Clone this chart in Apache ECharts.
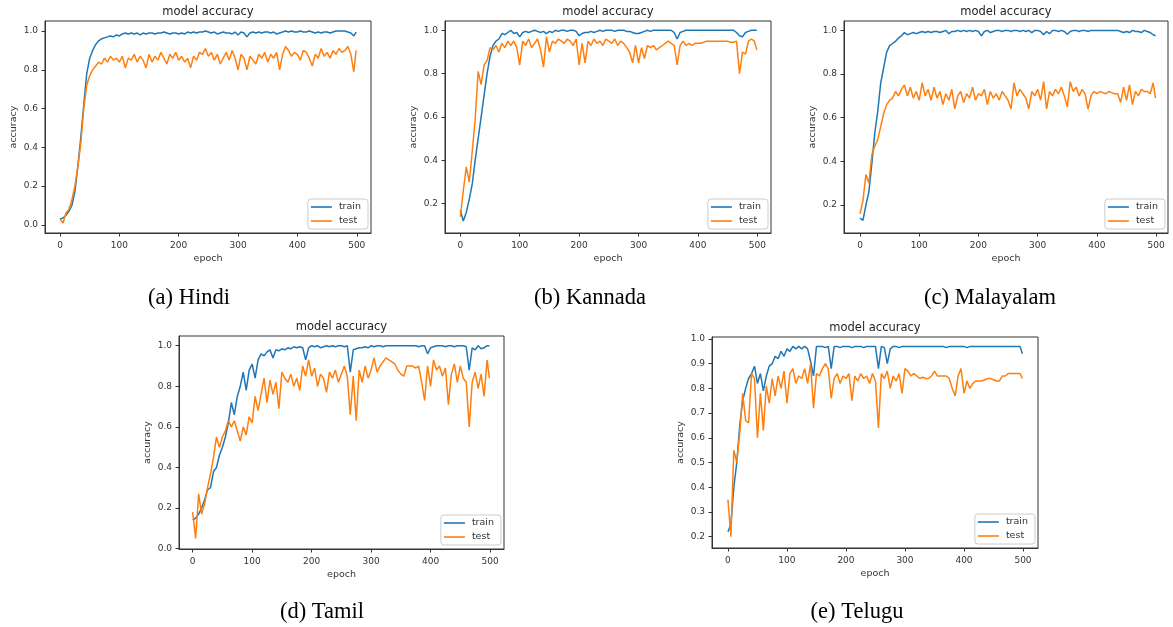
<!DOCTYPE html>
<html><head><meta charset="utf-8">
<script src="https://cdn.jsdelivr.net/npm/echarts@6/dist/echarts.min.js"></script>
<style>html,body{margin:0;padding:0;background:#fff}#c{width:1173px;height:627px}</style>
</head><body><div id="c"></div><script>
const epochs = [0,5,10,15,20,25,30,35,40,45,50,55,60,65,70,75,80,85,90,95,100,105,110,115,120,125,130,135,140,145,150,155,160,165,170,175,180,185,190,195,200,205,210,215,220,225,230,235,240,245,250,255,260,265,270,275,280,285,290,295,300,305,310,315,320,325,330,335,340,345,350,355,360,365,370,375,380,385,390,395,400,405,410,415,420,425,430,435,440,445,450,455,460,465,470,475,480,485,490,495,499];

const hindiTrain = [0.03,0.035,0.05,0.07,0.10,0.17,0.30,0.45,0.62,0.78,
0.86,0.90,0.93,0.95,0.96,0.965,0.97,0.975,0.97,0.98,
0.975,0.985,0.99,0.985,0.99,0.985,0.99,0.98,0.99,0.985,
0.99,0.99,0.985,0.99,0.99,0.995,0.99,0.985,0.99,0.99,
0.985,0.99,0.985,0.995,0.99,0.995,0.99,0.995,0.995,1.0,
0.995,0.99,0.995,0.985,0.99,0.995,0.99,0.99,0.985,0.995,
0.98,0.995,0.99,0.97,0.99,0.995,0.99,0.995,0.99,0.995,
0.995,0.99,0.995,0.985,0.99,0.995,1.0,0.995,1.0,0.995,
0.995,1.0,0.995,0.995,1.0,0.995,0.99,0.995,0.99,0.995,
0.995,0.99,0.995,1.0,1.0,1.0,1.0,0.995,0.99,0.975,
0.995];
const hindiTest = [0.03,0.01,0.06,0.08,0.13,0.20,0.30,0.42,0.60,0.72,
0.77,0.80,0.82,0.84,0.83,0.86,0.84,0.87,0.85,0.86,
0.84,0.87,0.81,0.86,0.85,0.88,0.84,0.87,0.85,0.81,
0.88,0.84,0.87,0.85,0.89,0.86,0.83,0.88,0.86,0.89,
0.85,0.87,0.84,0.86,0.81,0.87,0.85,0.89,0.88,0.91,
0.87,0.89,0.85,0.88,0.83,0.86,0.89,0.85,0.90,0.86,
0.80,0.88,0.86,0.80,0.87,0.85,0.83,0.88,0.86,0.89,
0.84,0.88,0.86,0.89,0.80,0.88,0.92,0.90,0.87,0.89,
0.88,0.85,0.90,0.89,0.86,0.82,0.88,0.86,0.91,0.87,
0.89,0.86,0.90,0.88,0.91,0.89,0.90,0.92,0.88,0.79,
0.90];

const kannadaTrain = [0.17,0.12,0.16,0.22,0.29,0.40,0.50,0.60,0.70,0.80,
0.88,0.93,0.95,0.96,0.985,0.98,0.99,1.0,0.985,0.99,
0.97,0.99,0.995,0.99,0.995,1.0,0.995,0.99,0.995,0.985,
0.995,0.99,1.0,0.995,1.0,1.0,0.995,1.0,1.0,0.995,
0.975,0.985,0.99,0.99,0.995,0.99,0.995,1.0,0.995,1.0,
1.0,1.0,0.995,1.0,1.0,1.0,0.995,0.995,0.99,0.985,
0.985,0.99,0.995,1.0,0.995,1.0,1.0,1.0,1.0,1.0,
1.0,1.0,0.99,0.96,0.99,0.995,1.0,1.0,1.0,1.0,
1.0,1.0,1.0,1.0,1.0,1.0,1.0,1.0,1.0,1.0,
1.0,1.0,1.0,0.99,0.975,0.97,0.99,0.995,1.0,1.0,
1.0];
const kannadaTest = [0.14,0.26,0.37,0.30,0.44,0.59,0.81,0.75,0.84,0.86,
0.92,0.91,0.93,0.90,0.94,0.92,0.95,0.93,0.95,0.92,
0.84,0.95,0.93,0.96,0.92,0.94,0.96,0.91,0.83,0.97,
0.90,0.95,0.94,0.96,0.95,0.94,0.96,0.95,0.93,0.96,
0.84,0.94,0.85,0.95,0.93,0.96,0.94,0.95,0.93,0.96,
0.95,0.94,0.96,0.93,0.95,0.94,0.92,0.90,0.85,0.93,
0.85,0.92,0.87,0.93,0.92,0.93,0.91,0.92,0.93,0.94,
0.95,0.94,0.93,0.84,0.93,0.95,0.93,0.94,0.93,0.94,
0.94,0.94,0.945,0.95,0.95,0.95,0.95,0.95,0.95,0.95,
0.95,0.945,0.945,0.95,0.80,0.90,0.89,0.95,0.96,0.95,
0.91];

const malayalamTrain = [0.14,0.13,0.20,0.26,0.39,0.53,0.63,0.76,0.83,0.90,
0.93,0.94,0.95,0.965,0.975,0.99,0.98,0.985,0.99,0.985,
0.99,0.995,0.99,0.995,0.99,0.995,0.995,0.99,0.995,1.0,
0.985,0.995,0.995,1.0,0.995,1.0,0.995,1.0,0.995,1.0,
0.995,0.975,0.995,1.0,0.99,0.995,1.0,1.0,0.995,1.0,
1.0,0.995,1.0,1.0,0.995,1.0,0.995,1.0,0.99,1.0,
1.0,0.995,0.98,0.995,0.985,1.0,1.0,0.995,1.0,0.995,
0.982,0.995,1.0,1.0,0.995,1.0,1.0,0.995,1.0,1.0,
1.0,1.0,1.0,1.0,1.0,1.0,1.0,1.0,0.995,0.99,
0.995,0.99,1.0,0.995,0.995,0.99,1.0,0.995,0.99,0.98,
0.975];
const malayalamTest = [0.16,0.22,0.34,0.30,0.43,0.47,0.50,0.56,0.62,0.66,
0.68,0.69,0.72,0.70,0.73,0.75,0.70,0.74,0.69,0.72,
0.68,0.76,0.70,0.73,0.68,0.74,0.69,0.72,0.66,0.71,
0.68,0.73,0.64,0.70,0.72,0.67,0.71,0.69,0.74,0.68,
0.71,0.70,0.73,0.66,0.72,0.69,0.71,0.68,0.72,0.70,
0.68,0.64,0.76,0.70,0.73,0.71,0.69,0.64,0.72,0.70,
0.73,0.68,0.765,0.64,0.72,0.70,0.73,0.71,0.74,0.70,
0.65,0.765,0.72,0.74,0.70,0.73,0.71,0.64,0.70,0.72,
0.71,0.72,0.715,0.71,0.72,0.715,0.71,0.71,0.67,0.74,
0.68,0.75,0.66,0.72,0.70,0.73,0.72,0.72,0.71,0.76,
0.69];

const tamilTrain = [0.14,0.15,0.17,0.20,0.24,0.29,0.30,0.38,0.40,0.46,
0.50,0.55,0.62,0.72,0.66,0.75,0.80,0.87,0.78,0.88,
0.91,0.84,0.93,0.96,0.95,0.97,0.98,0.94,0.98,0.975,
0.985,0.98,0.99,0.985,0.995,0.99,0.995,0.99,0.93,0.99,
1.0,0.995,1.0,0.99,0.995,1.0,0.995,1.0,0.995,1.0,
1.0,0.995,1.0,0.87,0.98,0.985,0.99,0.99,0.995,0.99,
1.0,0.995,1.0,1.0,0.995,1.0,1.0,1.0,1.0,1.0,
1.0,1.0,1.0,1.0,1.0,1.0,0.995,1.0,1.0,0.96,
0.99,0.995,1.0,1.0,1.0,0.995,1.0,1.0,0.995,1.0,
1.0,1.0,0.995,0.88,0.99,0.98,1.0,0.985,0.99,1.0,
1.0];
const tamilTest = [0.18,0.05,0.27,0.17,0.22,0.30,0.37,0.45,0.55,0.50,
0.55,0.58,0.63,0.60,0.63,0.58,0.53,0.60,0.56,0.65,
0.62,0.75,0.68,0.76,0.84,0.72,0.83,0.76,0.82,0.69,
0.87,0.84,0.82,0.86,0.80,0.84,0.78,0.90,0.85,0.93,
0.85,0.89,0.80,0.86,0.84,0.77,0.87,0.84,0.88,0.82,
0.86,0.90,0.85,0.66,0.85,0.63,0.88,0.82,0.90,0.84,
0.88,0.94,0.87,0.90,0.92,0.94,0.93,0.92,0.91,0.88,
0.86,0.85,0.90,0.90,0.90,0.89,0.90,0.82,0.73,0.90,
0.80,0.93,0.88,0.90,0.85,0.89,0.71,0.86,0.91,0.82,
0.90,0.84,0.82,0.60,0.82,0.87,0.79,0.86,0.75,0.93,
0.84];

const teluguTrain = [0.22,0.25,0.40,0.50,0.65,0.75,0.80,0.84,0.86,0.89,
0.82,0.86,0.79,0.85,0.89,0.90,0.93,0.92,0.95,0.93,
0.96,0.95,0.97,0.96,0.97,0.96,0.97,0.96,0.91,0.85,
0.97,0.97,0.97,0.965,0.97,0.88,0.97,0.97,0.965,0.97,
0.97,0.97,0.965,0.97,0.97,0.97,0.965,0.97,0.97,0.97,
0.97,0.88,0.97,0.965,0.90,0.96,0.97,0.97,0.965,0.97,
0.97,0.97,0.97,0.97,0.97,0.97,0.97,0.97,0.97,0.97,
0.97,0.97,0.97,0.97,0.965,0.97,0.97,0.97,0.97,0.97,
0.97,0.965,0.97,0.97,0.97,0.97,0.97,0.97,0.97,0.97,
0.97,0.97,0.97,0.97,0.97,0.97,0.97,0.97,0.97,0.97,
0.94];
const teluguTest = [0.35,0.20,0.55,0.50,0.62,0.78,0.67,0.66,0.86,0.84,
0.60,0.78,0.63,0.81,0.74,0.84,0.77,0.85,0.80,0.87,
0.74,0.86,0.88,0.82,0.85,0.84,0.88,0.82,0.90,0.72,
0.86,0.85,0.88,0.90,0.88,0.76,0.84,0.86,0.82,0.85,
0.84,0.86,0.75,0.85,0.83,0.86,0.84,0.85,0.82,0.86,
0.83,0.64,0.86,0.84,0.87,0.80,0.85,0.83,0.86,0.78,
0.88,0.87,0.85,0.86,0.85,0.84,0.845,0.84,0.84,0.85,
0.87,0.85,0.85,0.85,0.85,0.84,0.80,0.77,0.85,0.88,
0.78,0.83,0.80,0.82,0.83,0.83,0.83,0.835,0.84,0.84,
0.835,0.83,0.83,0.85,0.85,0.86,0.86,0.86,0.86,0.86,
0.84];

const xTicks = [0,100,200,300,400,500];
const yTicksA = [0.0,0.2,0.4,0.6,0.8,1.0];
const yTicksB = [0.2,0.4,0.6,0.8,1.0];
const yTicksE = [0.2,0.3,0.4,0.5,0.6,0.7,0.8,0.9,1.0];
const seriesNames = ['train','test'];
const panelTitle = 'model accuracy';
const xName = 'epoch';
const yName = 'accuracy';
const captions = ['(a) Hindi','(b) Kannada','(c) Malayalam','(d) Tamil','(e) Telugu'];

const panels = [
  {train: hindiTrain, test: hindiTest, yTicks: yTicksA, g:{left:45,top:21,width:326,height:212}, x:[-25.3,524], y:[-0.042,1.052], cap:[189,298]},
  {train: kannadaTrain, test: kannadaTest, yTicks: yTicksB, g:{left:445,top:21,width:326,height:212}, x:[-25.8,523], y:[0.065,1.043], cap:[590,298]},
  {train: malayalamTrain, test: malayalamTest, yTicks: yTicksB, g:{left:844,top:21,width:324,height:212}, x:[-27,520], y:[0.072,1.043], cap:[990,298]},
  {train: tamilTrain, test: tamilTest, yTicks: yTicksA, g:{left:179,top:336,width:325,height:213}, x:[-23,523.5], y:[-0.002,1.048], cap:[322,612]},
  {train: teluguTrain, test: teluguTest, yTicks: yTicksE, g:{left:712,top:337,width:326,height:211}, x:[-27,525.4], y:[0.154,1.008], cap:[857,612]}
];

const FONT = 'DejaVu Sans';
const colors = {train:'#1f77b4', test:'#ff7f0e'};
const pair = (vals) => epochs.map((e, i) => [e, vals[i]]);

const grid = panels.map(p => Object.assign({show:true, borderColor:'#333', borderWidth:1, backgroundColor:'transparent'}, p.g));
const xAxis = panels.map((p, i) => ({
  type:'value', gridIndex:i, min:p.x[0], max:p.x[1],
  axisLine:{show:true, onZero:false, lineStyle:{color:'#333', width:1}},
  axisTick:{show:true, customValues:xTicks, length:3.5, lineStyle:{color:'#333'}},
  axisLabel:{customValues:xTicks, fontSize:9, color:'#333', margin:8, fontFamily:FONT},
  splitLine:{show:false},
  name:xName, nameLocation:'middle', nameGap:21,
  nameTextStyle:{fontSize:9.5, color:'#333', fontFamily:FONT}
}));
const yAxis = panels.map((p, i) => ({
  type:'value', gridIndex:i, min:p.y[0], max:p.y[1],
  axisLine:{show:true, onZero:false, lineStyle:{color:'#333', width:1}},
  axisTick:{show:true, customValues:p.yTicks, length:3.5, lineStyle:{color:'#333'}},
  axisLabel:{customValues:p.yTicks, fontSize:9, color:'#333', margin:7, fontFamily:FONT,
    formatter:(v) => Number(v).toFixed(1)},
  splitLine:{show:false},
  name:yName, nameLocation:'middle', nameGap:26,
  nameTextStyle:{fontSize:9.5, color:'#333', fontFamily:FONT}
}));
const series = [];
panels.forEach((p, i) => {
  seriesNames.forEach((n, k) => {
    series.push({
      type:'line', name:n, xAxisIndex:i, yAxisIndex:i,
      data: pair(k === 0 ? p.train : p.test),
      showSymbol:false, symbol:'none', smooth:false, animation:false,
      color: colors[n], lineStyle:{color:colors[n], width:1.5},
      z: k === 0 ? 2 : 3, clip:true
    });
  });
});
const legend = panels.map(p => ({
  data: seriesNames, orient:'vertical',
  right: 1173 - (p.g.left + p.g.width) + 3,
  bottom: 627 - (p.g.top + p.g.height) + 4,
  icon:'rect', itemWidth:21, itemHeight:1.6, itemGap:4,
  padding:[3,7,3,3], backgroundColor:'rgba(255,255,255,0.8)',
  borderColor:'#cccccc', borderWidth:1, borderRadius:3, selectedMode:false,
  textStyle:{fontSize:9.5, color:'#333', fontFamily:FONT, padding:[0,0,0,2]}
}));
const graphic = [];
panels.forEach((p, i) => {
  graphic.push({type:'text', x: p.g.left + p.g.width/2, y: p.g.top - 8.5,
    style:{text: panelTitle, textAlign:'center', textVerticalAlign:'middle',
      font: '11.5px "DejaVu Sans"', fill:'#222'}});
  graphic.push({type:'text', x: p.cap[0], y: p.cap[1],
    style:{text: captions[i], textAlign:'center', textVerticalAlign:'middle',
      font: '22.5px "Liberation Serif"', fill:'#000'}});
});

const chart = echarts.init(document.getElementById('c'), null, {renderer:'canvas'});
chart.setOption({animation:false, backgroundColor:'#fff', grid, xAxis, yAxis, series, legend, graphic});
</script></body></html>
